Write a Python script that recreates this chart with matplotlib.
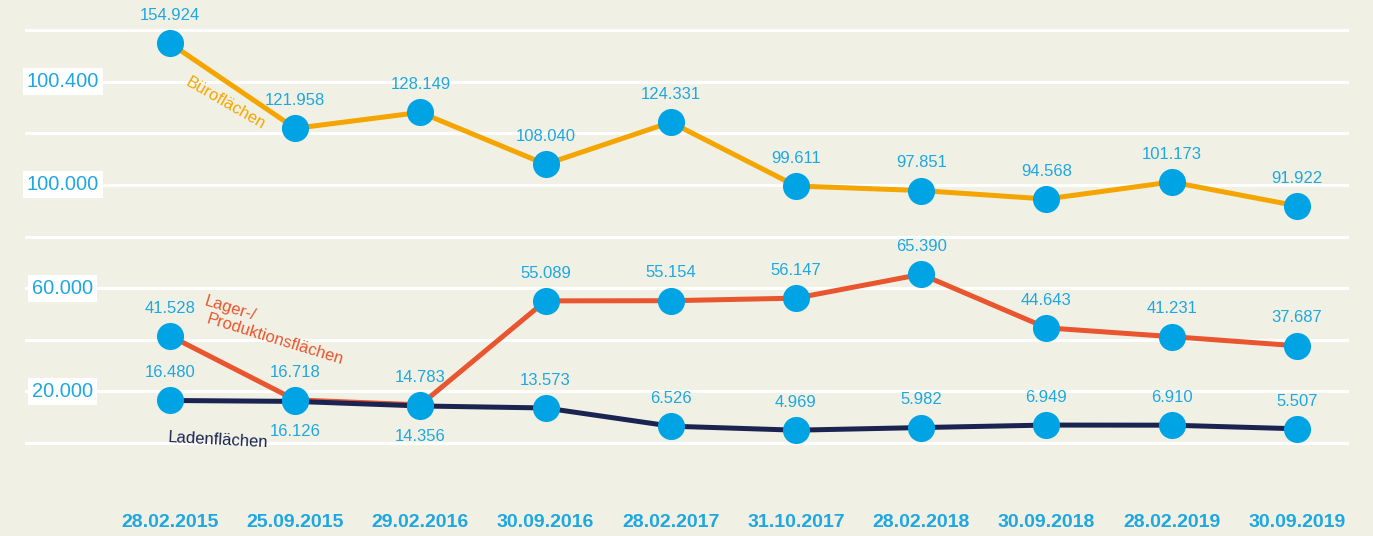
import matplotlib.pyplot as plt
import numpy as np

plt.rcParams['font.family'] = ['Liberation Sans', 'DejaVu Sans']

dates = ['28.02.2015', '25.09.2015', '29.02.2016', '30.09.2016', '28.02.2017',
         '31.10.2017', '28.02.2018', '30.09.2018', '28.02.2019', '30.09.2019']
buero = [154924, 121958, 128149, 108040, 124331, 99611, 97851, 94568, 101173, 91922]
lager = [41528, 16718, 14783, 55089, 55154, 56147, 65390, 44643, 41231, 37687]
laden = [16480, 16126, 14356, 13573, 6526, 4969, 5982, 6949, 6910, 5507]

ytick_pos = [20000, 60000, 100000, 140000]
ytick_labels = ['20.000', '60.000', '100.000', '100.400']

bg = '#f0f1e4'
blue = '#00a3e4'
txt_blue = '#1ea7e1'
orange = '#f5a500'
red = '#e9552e'
navy = '#1b2450'

def fmt(v):
    return f'{v:,}'.replace(',', '.')

fig = plt.figure(figsize=(13.73, 5.36), dpi=100, facecolor=bg)
ax = fig.add_axes([25 / 1373, 0, 1324 / 1373, 1])
ax.set_facecolor(bg)

x = np.arange(len(dates))
ax.set_xlim(-1.158, 9.417)
ax.set_ylim(-36047, 171705)

for s in ax.spines.values():
    s.set_visible(False)
ax.set_xticks([])
ax.set_yticks(np.arange(0, 160001, 20000))
ax.tick_params(axis='y', length=0, labelleft=False)
ax.grid(axis='y', color='white', linewidth=2.2)
ax.set_axisbelow(True)

for vals, col in [(buero, orange), (lager, red), (laden, navy)]:
    ax.plot(x, vals, color=col, linewidth=3.6, zorder=2, solid_capstyle='round')
for vals in [buero, lager, laden]:
    ax.plot(x, vals, 'o', color=blue, markersize=19.5, markeredgewidth=0, zorder=3)

# value labels
below = {('laden', 1), ('laden', 2)}
for name, vals in [('buero', buero), ('lager', lager), ('laden', laden)]:
    for i, v in enumerate(vals):
        dy = -22 if (name, i) in below else 20
        ax.annotate(fmt(v), (x[i], v), xytext=(0, dy), textcoords='offset points',
                    ha='center', va='center', fontsize=12, color=txt_blue, zorder=4)

# y labels with white boxes
ytr = ax.get_yaxis_transform()
for p, lab in zip(ytick_pos, ytick_labels):
    ax.text(0.0285, p, lab, transform=ytr, ha='center', va='center', fontsize=14.4,
            color=txt_blue, zorder=5,
            bbox=dict(boxstyle='square,pad=0.2', facecolor='white', edgecolor='none'))

# x labels
xtr = ax.get_xaxis_transform()
for i, d in enumerate(dates):
    ax.text(x[i], 0.026, d, transform=xtr, ha='center', va='center', fontsize=14,
            fontweight='bold', color=txt_blue)

# series names
ax.text(0.44, 131800, 'Büroflächen', color=orange, fontsize=12, rotation=-30,
        ha='center', va='center')
ax.text(0.48, 52000, 'Lager-/', color=red, fontsize=12, rotation=-17,
        ha='center', va='center')
ax.text(0.84, 40000, 'Produktionsflächen', color=red, fontsize=12, rotation=-17,
        ha='center', va='center')
ax.text(0.38, 1200, 'Ladenflächen', color=navy, fontsize=12, rotation=-3,
        ha='center', va='center')

fig.savefig('out.png', dpi=100, facecolor=bg)
